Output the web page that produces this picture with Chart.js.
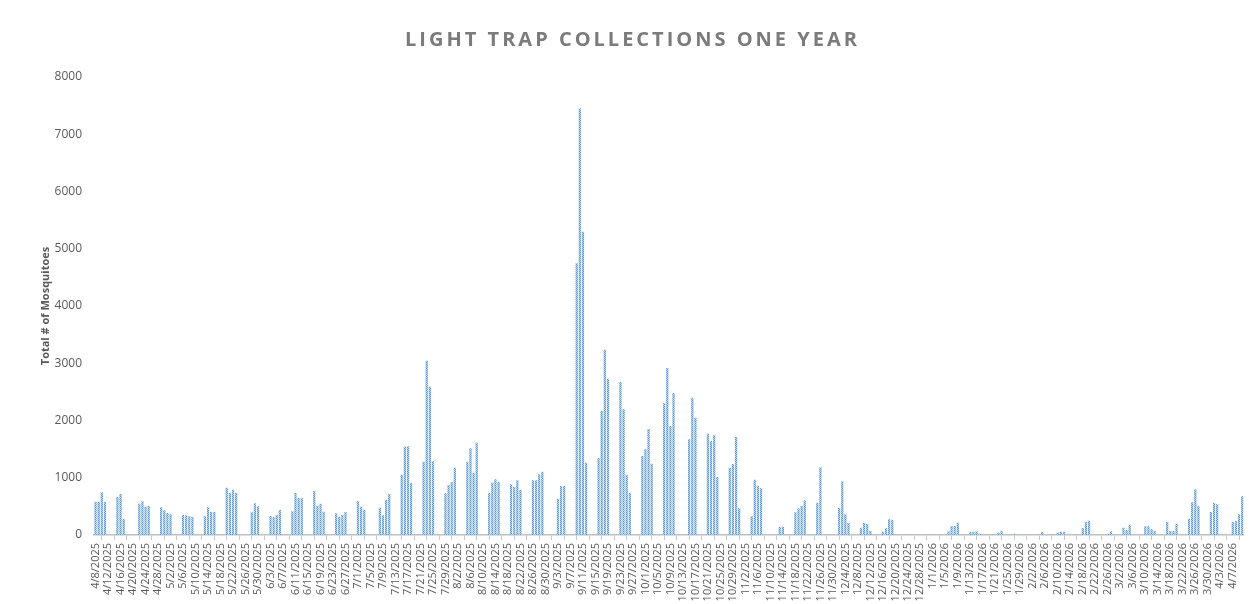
<!DOCTYPE html>
<html>
<head>
<meta charset="utf-8">
<script src="https://cdn.jsdelivr.net/npm/chart.js@4.4.1/dist/chart.umd.min.js"></script>
<style>
  html, body { margin: 0; padding: 0; background: #fff; }
</style>
</head>
<body>
<canvas id="trapChart" width="1249" height="604"></canvas>
<script>
const chartTitle = 'LIGHT TRAP COLLECTIONS ONE YEAR';
const yTitle = 'Total # of Mosquitoes';
const firstDay = [2025, 4, 8];   // first category, 4/8/2025
const labelEvery = 4;            // a date label every 4 days

// daily totals, one small array per month
const apr2025 = [582,582,745,576,0,0,0,664,716,285,0,0,0,0,547,588,495,507,0,0,0,483,431];
const may2025 = [384,361,0,0,0,349,344,326,314,0,0,0,326,483,402,402,0,0,0,827,740,792,740,0,0,0,0,396,553,501,0];
const jun2025 = [0,0,332,314,349,437,0,0,0,413,734,646,646,0,0,0,768,507,547,408,0,0,0,378,314,349,402,0,0,0];
const jul2025 = [588,495,442,0,0,0,0,477,343,611,716,0,0,0,1054,1543,1549,908,0,0,0,1281,3045,2591,1287,0,0,0,728,873,926];
const aug2025 = [1176,0,0,0,1281,1514,1089,1613,0,0,0,734,914,972,932,0,0,0,885,838,955,786,0,0,0,955,955,1060,1106,0,0];
const sep2025 = [0,0,629,856,856,0,0,0,4745,7453,5298,1260,0,0,0,1345,2166,3237,2731,0,0,0,2672,2195,1048,739,0,0,0,1380];
const oct2025 = [1496,1852,1246,0,0,0,2300,2917,1904,2480,0,0,0,0,1671,2399,2050,0,0,0,1770,1642,1741,1013,0,0,0,1170,1240,1712,466];
const nov2025 = [0,0,0,326,967,862,815,0,0,0,0,0,146,146,0,0,0,396,466,507,606,0,0,0,565,1182,0,0,0,0];
const dec2025 = [0,472,937,361,210,0,0,0,128,215,192,70,0,0,0,58,116,274,268,0,0,0,0,0,0,0,0,0,0,0,0];
const jan2026 = [0,0,0,0,0,64,157,157,215,0,0,0,58,58,64,23,0,0,0,0,0,41,76,0,0,0,17,0,0,0,0];
const feb2026 = [0,0,0,0,52,0,0,0,0,41,58,58,0,0,0,0,0,122,227,250,0,0,0,0,0,23,64,0];
const mar2026 = [0,0,128,87,180,0,0,0,0,151,151,99,76,0,0,0,227,70,70,198,0,0,0,285,571,798,501,0,0,0,402];
const apr2026 = [559,536,0,0,0,0,227,245,361,675];

const counts = [].concat(apr2025, may2025, jun2025, jul2025, aug2025, sep2025,
  oct2025, nov2025, dec2025, jan2026, feb2026, mar2026, apr2026);

// one date label per day, M/D/YYYY
const dates = [];
for (let i = 0; i < counts.length; i++) {
  const d = new Date(Date.UTC(firstDay[0], firstDay[1] - 1, firstDay[2] + i));
  dates.push((d.getUTCMonth() + 1) + '/' + d.getUTCDate() + '/' + d.getUTCFullYear());
}

// dotted light blue fill like the original bars
function dotPattern() {
  const c = document.createElement('canvas');
  c.width = 2; c.height = 2;
  const g = c.getContext('2d');
  g.fillStyle = '#b8d2ee';
  g.fillRect(0, 0, 2, 2);
  g.fillStyle = '#5b9bd5';
  g.fillRect(0, 0, 1, 1);
  g.fillRect(1, 1, 1, 1);
  return g.createPattern(c, 'repeat');
}

// the title is letter spaced in the original
const spacedTitle = {
  id: 'spacedTitle',
  beforeDraw(chart) {
    const block = chart.titleBlock;
    if (!block || block._spaced) return;
    const draw = block.draw.bind(block);
    block.draw = function () {
      chart.ctx.save();
      chart.ctx.letterSpacing = '3px';
      draw();
      chart.ctx.restore();
    };
    block._spaced = true;
  }
};

const ctx = document.getElementById('trapChart').getContext('2d');
const chart = new Chart(ctx, {
  type: 'bar',
  data: {
    labels: dates,
    datasets: [{
      label: yTitle,
      data: counts,
      backgroundColor: dotPattern(),
      borderWidth: 0,
      categoryPercentage: 1,
      barPercentage: 0.72
    }]
  },
  plugins: [spacedTitle],
  options: {
    responsive: false,
    animation: false,
    devicePixelRatio: 1,
    layout: { padding: { left: 18, right: 2, top: 0, bottom: 0 } },
    plugins: {
      legend: { display: false },
      tooltip: { enabled: false },
      title: {
        display: true,
        text: chartTitle,
        color: '#7b7b7b',
        font: { family: '"Open Sans", sans-serif', size: 20, weight: 'bold' },
        padding: { top: 28, bottom: 25 }
      }
    },
    scales: {
      x: {
        offset: true,
        grid: {
          display: true,
          offset: true,
          drawOnChartArea: false,
          drawTicks: true,
          tickLength: 5,
          color: '#c8c8c8'
        },
        border: { display: true, color: '#c0c0c0', width: 1.5 },
        ticks: {
          autoSkip: false,
          maxRotation: 90,
          minRotation: 90,
          padding: 3,
          color: '#595959',
          font: { family: '"Open Sans", sans-serif', size: 11 },
          callback: function (val, idx) {
            return idx % labelEvery === 0 ? this.getLabelForValue(val) : null;
          }
        },
        afterFit(scale) { scale.height = 69; }
      },
      y: {
        min: 0,
        max: 8000,
        grid: { display: false, drawTicks: false },
        border: { display: false },
        ticks: {
          stepSize: 1000,
          padding: 12,
          color: '#595959',
          font: { family: '"Open Sans", sans-serif', size: 12 },
          callback: (v) => String(v)
        },
        title: {
          display: true,
          text: yTitle,
          color: '#595959',
          font: { family: '"Open Sans", sans-serif', size: 11, weight: 'bold' },
          padding: { top: 21, bottom: 0 }
        },
        afterFit(scale) { scale.width = 76; }
      }
    }
  }
});
</script>
</body>
</html>
